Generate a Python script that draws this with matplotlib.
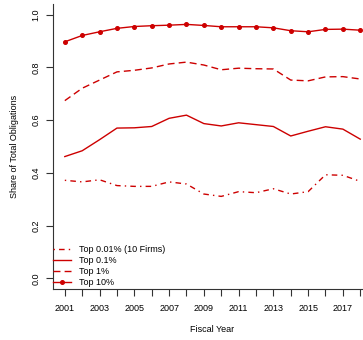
import matplotlib
matplotlib.use("Agg")
import matplotlib.pyplot as plt

years = list(range(2001, 2019))
top001 = [0.372, 0.366, 0.374, 0.352, 0.349, 0.349, 0.366, 0.358, 0.320, 0.311,
          0.329, 0.325, 0.340, 0.320, 0.329, 0.393, 0.391, 0.368]
top01 = [0.462, 0.484, 0.526, 0.570, 0.571, 0.576, 0.607, 0.619, 0.587, 0.578,
         0.590, 0.583, 0.576, 0.540, 0.558, 0.575, 0.566, 0.528]
top1 = [0.674, 0.721, 0.752, 0.783, 0.789, 0.798, 0.813, 0.820, 0.809, 0.791,
        0.797, 0.795, 0.794, 0.752, 0.749, 0.764, 0.765, 0.756]
top10 = [0.897, 0.921, 0.935, 0.948, 0.955, 0.958, 0.960, 0.963, 0.959, 0.954,
         0.954, 0.954, 0.950, 0.939, 0.935, 0.944, 0.945, 0.941]
labels = ["Top 0.01% (10 Firms)", "Top 0.1%", "Top 1%", "Top 10%"]
xtick_labels = [str(y) for y in range(2001, 2019, 2)]

RED = "#CD0000"
plt.rcParams["font.family"] = ["Liberation Sans", "DejaVu Sans"]

fig = plt.figure(figsize=(3.63, 3.40), dpi=100)
ax = fig.add_axes([0.146, 0.150, 0.879, 0.838])

ax.plot(years, top001, color=RED, lw=1.0, ls=(0, (1, 3, 4, 3)), label=labels[0])
ax.plot(years, top01, color=RED, lw=1.0, ls="-", label=labels[1])
ax.plot(years, top1, color=RED, lw=1.0, ls=(0, (5, 3)), label=labels[2])
ax.plot(years, top10, color=RED, lw=1.0, ls="-", marker="o", ms=2.6, label=labels[3])

ax.set_xlim(2000.32, 2018.68)
ax.set_ylim(-0.04, 1.04)
ax.set_xticks(years)
ax.set_xticklabels([str(y) if str(y) in xtick_labels else "" for y in years], fontsize=6.5)
ax.set_yticks([0.0, 0.2, 0.4, 0.6, 0.8, 1.0])
ax.set_yticklabels(["0.0", "0.2", "0.4", "0.6", "0.8", "1.0"], fontsize=6.5,
                   rotation=90, va="center")
ax.tick_params(direction="out", length=4.8, width=0.8, color="#333333")
ax.tick_params(axis="x", pad=6)
ax.tick_params(axis="y", pad=4)
for sp in ("top", "right"):
    ax.spines[sp].set_visible(False)
for sp in ("left", "bottom"):
    ax.spines[sp].set_linewidth(0.8)
    ax.spines[sp].set_color("#333333")

ax.set_xlabel("Fiscal Year", fontsize=6.5, labelpad=9)
ax.set_ylabel("Share of Total Obligations", fontsize=6.5, labelpad=9)

ax.legend(loc="lower left", frameon=False, fontsize=6.5, handlelength=2.0,
          handletextpad=0.9, labelspacing=0.22, borderaxespad=0.0,
          borderpad=0.2, bbox_to_anchor=(-0.005, 0.0))

fig.savefig("out.png", dpi=100)
